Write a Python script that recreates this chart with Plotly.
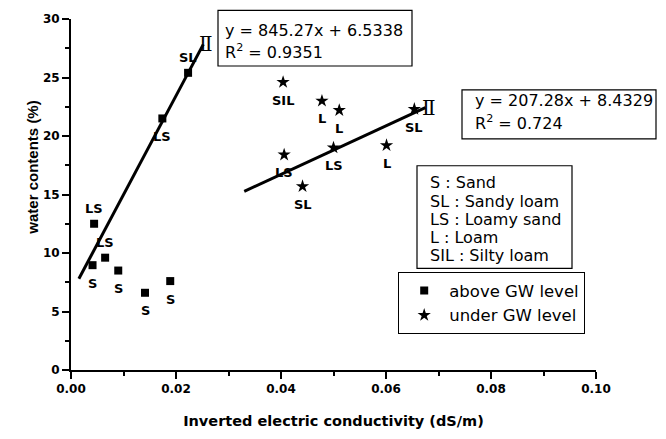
import plotly.graph_objects as go

# ---- data -------------------------------------------------------------
# samples above the groundwater level (squares)
above_x = [0.0044, 0.0065, 0.0041, 0.0090, 0.0141, 0.0189, 0.0174, 0.0223]
above_y = [12.5, 9.6, 8.96, 8.5, 6.6, 7.6, 21.5, 25.4]
above_lbl = ["LS", "LS", "S", "S", "S", "S", "LS", "SL"]
above_side = ["above", "above", "below", "below", "below", "below", "below", "above"]

# samples under the groundwater level (stars)
under_x = [0.0404, 0.0478, 0.0511, 0.0654, 0.0406, 0.0500, 0.0601, 0.0441]
under_y = [24.6, 23.0, 22.2, 22.3, 18.4, 19.0, 19.2, 15.7]
under_lbl = ["SIL", "L", "L", "SL", "LS", "LS", "L", "SL"]
under_side = ["below"] * 8

# regression lines (slope, intercept, R^2, x extent)
fit1 = dict(slope=845.27, icpt=6.5338, r2="0.9351", x0=0.0015, x1=0.0252)
fit2 = dict(slope=207.28, icpt=8.4329, r2="0.724", x0=0.033, x1=0.0675)

soil_legend = ["S : Sand", "SL : Sandy loam", "LS : Loamy sand",
               "L : Loam", "SIL : Silty loam"]

x_ticks = [0.00, 0.02, 0.04, 0.06, 0.08, 0.10]
y_ticks = [0, 5, 10, 15, 20, 25, 30]

# ---- layout helpers ---------------------------------------------------
W, H = 666, 439
L, R, T, B = 71, 596, 15, 381          # plot-area pixel box


def px_x(p):
    return (p - L) / (R - L)


def px_y(p):
    return (B - p) / (B - T)


BOLD = dict(family="DejaVu Sans", color="black", weight="bold")

fig = go.Figure()

fig.add_trace(go.Scatter(
    x=above_x, y=above_y, mode="markers", name="above GW level",
    marker=dict(symbol="square", size=8, color="black"),
))
fig.add_trace(go.Scatter(
    x=under_x, y=under_y, mode="markers", name="under GW level",
    marker=dict(symbol="star", size=10, color="black"),
))

for f in (fit1, fit2):
    xs = [f["x0"], f["x1"]]
    ys = [f["slope"] * v + f["icpt"] for v in xs]
    fig.add_trace(go.Scatter(x=xs, y=ys, mode="lines", showlegend=False,
                             line=dict(color="black", width=3)))

annotations = []
for xs, ys, lbls, sides in ((above_x, above_y, above_lbl, above_side),
                            (under_x, under_y, under_lbl, under_side)):
    for xv, yv, t, s in zip(xs, ys, lbls, sides):
        annotations.append(dict(
            x=xv, y=yv, xref="x", yref="y", text=t, showarrow=False,
            font=dict(BOLD, size=13), yshift=15 if s == "above" else -18,
        ))

# roman numeral tags at the upper end of each fit line
for px, py in ((197, 26), (438, 93)):
    annotations.append(dict(
        x=px_x(px), y=px_y(py), xref="paper", yref="paper", text="Ⅱ",
        showarrow=False, font=dict(family="DejaVu Serif, Liberation Serif",
                                   size=20, color="black"),
    ))

# y-axis title
annotations.append(dict(
    x=px_x(33), y=px_y(170), xref="paper", yref="paper",
    xanchor="center", yanchor="middle",
    text="water contents (%)", textangle=-90, showarrow=False,
    font=dict(family="Liberation Sans, Arial", size=15, color="black",
              weight="bold"),
))

box_font = dict(family="DejaVu Sans", size=16, color="black")
shapes = []


def text_box(x0, y0, x1, y1, lines, line_y, tx):
    shapes.append(dict(type="rect", xref="paper", yref="paper",
                       x0=px_x(x0), x1=px_x(x1), y0=px_y(y0), y1=px_y(y1),
                       line=dict(color="black", width=1.2),
                       fillcolor="white", layer="above"))
    for s, ly in zip(lines, line_y):
        annotations.append(dict(
            x=px_x(tx), y=px_y(ly), xref="paper", yref="paper", text=s,
            xanchor="left", yanchor="middle", showarrow=False, font=box_font,
        ))


for f, box, ly, tx in ((fit1, (218, 6, 412, 64), (27, 49), 223),
                       (fit2, (462, 89, 656, 140), (100, 123), 473)):
    eq = [f"y = {f['slope']}x + {f['icpt']}", f"R<sup>2</sup> = {f['r2']}"]
    text_box(*box, eq, ly, tx)

text_box(417, 168, 572, 275, soil_legend, [186, 205, 224, 243, 262], 428)

fig.update_layout(
    width=W, height=H,
    margin=dict(l=L, r=W - R, t=T, b=H - B, pad=0),
    paper_bgcolor="white", plot_bgcolor="white",
    annotations=annotations, shapes=shapes,
    showlegend=True,
    legend=dict(x=px_x(398), y=px_y(279), xanchor="left", yanchor="top",
                bordercolor="black", borderwidth=1.2, bgcolor="white",
                font=dict(family="DejaVu Sans", size=16.5, color="black"),
                tracegroupgap=0, itemwidth=40),
    xaxis=dict(
        range=[0, 0.1], tickvals=x_ticks, tickformat=".2f",
        showgrid=False, zeroline=False, showline=True, linecolor="black",
        linewidth=2, ticks="outside", ticklen=7, tickwidth=2, tickcolor="black",
        minor=dict(dtick=0.01, ticks="outside", ticklen=4, tickwidth=2,
                   tickcolor="black", showgrid=False),
        tickfont=dict(BOLD, size=12),
        title=dict(text="Inverted electric conductivity (dS/m)", standoff=20,
                   font=dict(BOLD, size=14.5)),
    ),
    yaxis=dict(
        range=[0, 30], tickvals=y_ticks,
        showgrid=False, zeroline=False, showline=True, linecolor="black",
        linewidth=2, ticks="outside", ticklen=7, tickwidth=2, tickcolor="black",
        minor=dict(dtick=2.5, ticks="outside", ticklen=4, tickwidth=2,
                   tickcolor="black", showgrid=False),
        tickfont=dict(BOLD, size=12),
    ),
)

fig.write_html("out.html")
